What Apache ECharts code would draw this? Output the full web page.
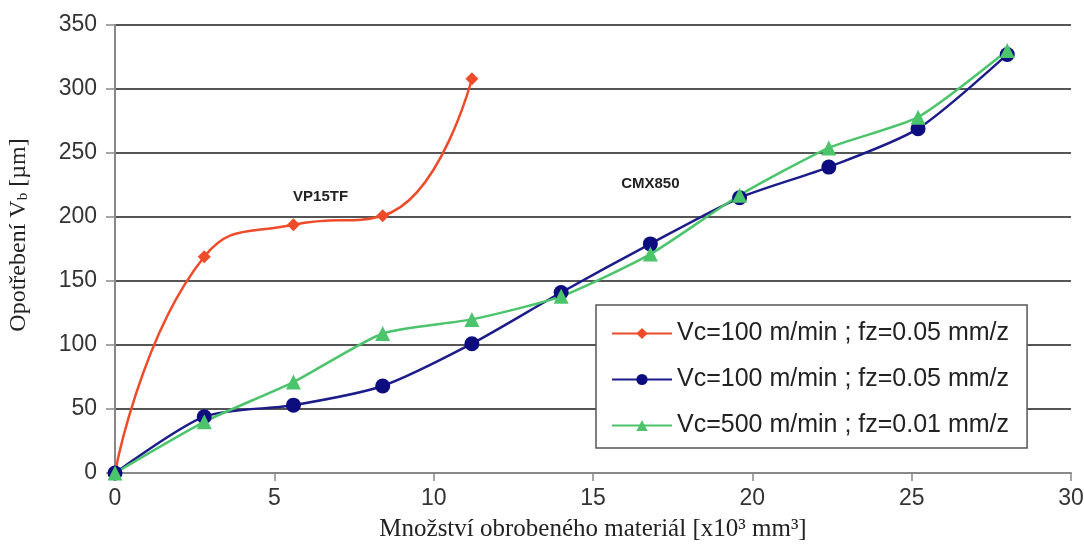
<!DOCTYPE html>
<html>
<head>
<meta charset="utf-8">
<script src="https://cdn.jsdelivr.net/npm/echarts@6/dist/echarts.min.js"></script>
<style>
html,body{margin:0;padding:0;background:#fff;}
#chart{width:1084px;height:544px;}
</style>
</head>
<body>
<div id="chart"></div>
<script>
// Data
const xValues = [0, 2.8, 5.6, 8.4, 11.2, 14, 16.8, 19.6, 22.4, 25.2, 28];
const redVP15TF = [0, 169, 194, 201, 308];
const blueCMX850 = [0, 44, 53, 68, 101, 141, 179, 215, 239, 269, 327];
const greenCMX850 = [0, 40, 71, 109, 120, 138, 171, 217, 254, 278, 330];
const seriesNames = [
  'Vc=100 m/min ; fz=0.05 mm/z',
  'Vc=100 m/min ; fz=0.05 mm/z\u200B',
  'Vc=500 m/min ; fz=0.01 mm/z'
];
const yTicks = [0, 50, 100, 150, 200, 250, 300, 350];
const xTicks = [0, 5, 10, 15, 20, 25, 30];
const annotations = [
  { text: 'VP15TF', x: 6.45, y: 216 },
  { text: 'CMX850', x: 16.8, y: 226 }
];

function pairs(vals) { return vals.map((v, i) => [xValues[i], v]); }

const SANS = '"Liberation Sans", Arial, sans-serif';
const SERIF = '"Liberation Serif", "Times New Roman", serif';

const chart = echarts.init(document.getElementById('chart'));
chart.setOption({
  animation: false,
  backgroundColor: '#fff',
  grid: { left: 115, right: 13, top: 25, bottom: 71, containLabel: false, outerBoundsMode: 'none' },
  legend: {
    orient: 'vertical',
    left: 596, top: 305,
    padding: [16, 18, 10, 15],
    itemGap: 21,
    itemWidth: 60,
    itemHeight: 14,
    backgroundColor: '#fff',
    borderColor: '#555',
    borderWidth: 1.5,
    borderRadius: 0,
    textStyle: { fontFamily: SANS, fontSize: 25, lineHeight: 25, color: '#222' },
    data: seriesNames
  },
  xAxis: {
    type: 'value', min: xTicks[0], max: xTicks[xTicks.length - 1], interval: 5,
    name: 'Množství obrobeného materiál [x10³ mm³]',
    nameLocation: 'middle', nameGap: 44,
    nameTextStyle: { fontFamily: SERIF, fontSize: 25, color: '#222' },
    axisLine: { lineStyle: { color: '#888', width: 2 } },
    axisTick: { show: true, inside: false, length: 8, lineStyle: { color: '#888', width: 1.5 } },
    axisLabel: { margin: 14, fontFamily: SANS, fontSize: 23, color: '#333' },
    splitLine: { show: false }
  },
  yAxis: {
    type: 'value', min: yTicks[0], max: yTicks[yTicks.length - 1], interval: 50,
    name: '{a|Opotřebení V}{s|b}{a| [µm]}',
    nameLocation: 'middle', nameGap: 84, nameRotate: 90,
    nameTextStyle: {
      fontFamily: SERIF, fontSize: 24, color: '#222', padding: [0, 0, 0, 28],
      rich: {
        a: { fontFamily: SERIF, fontSize: 24, color: '#222' },
        s: { fontFamily: SERIF, fontSize: 15, color: '#222', verticalAlign: 'bottom', padding: [8, 0, 0, 0] }
      }
    },
    axisLine: { show: true, lineStyle: { color: '#888', width: 2 } },
    axisTick: { show: true, inside: false, length: 9, lineStyle: { color: '#888', width: 1.5 } },
    axisLabel: { margin: 18, fontFamily: SANS, fontSize: 23, color: '#333' },
    splitLine: { show: true, lineStyle: { color: '#555', width: 2 } }
  },
  series: [
    {
      name: seriesNames[0], type: 'line', data: pairs(redVP15TF),
      smooth: 0.5, symbol: 'diamond', symbolSize: 13,
      lineStyle: { color: '#ee4b2b', width: 2.5 },
      itemStyle: { color: '#ee4b2b' },
      markPoint: {
        symbol: 'circle', symbolSize: 0,
        label: { show: true, position: 'inside', fontFamily: SANS, fontWeight: 'bold', fontSize: 15, color: '#222',
          formatter: p => p.name },
        data: annotations.map(a => ({ name: a.text, coord: [a.x, a.y] }))
      }
    },
    {
      name: seriesNames[1], type: 'line', data: pairs(blueCMX850),
      smooth: 0.25, symbol: 'circle', symbolSize: 15,
      lineStyle: { color: '#1c1c8a', width: 2.5 },
      itemStyle: { color: '#0d0d80' }
    },
    {
      name: seriesNames[2], type: 'line', data: pairs(greenCMX850),
      smooth: 0.2, symbol: 'triangle', symbolSize: 15,
      lineStyle: { color: '#4cc46c', width: 2.5 },
      itemStyle: { color: '#4cc46c' }
    }
  ]
});
</script>
</body>
</html>
